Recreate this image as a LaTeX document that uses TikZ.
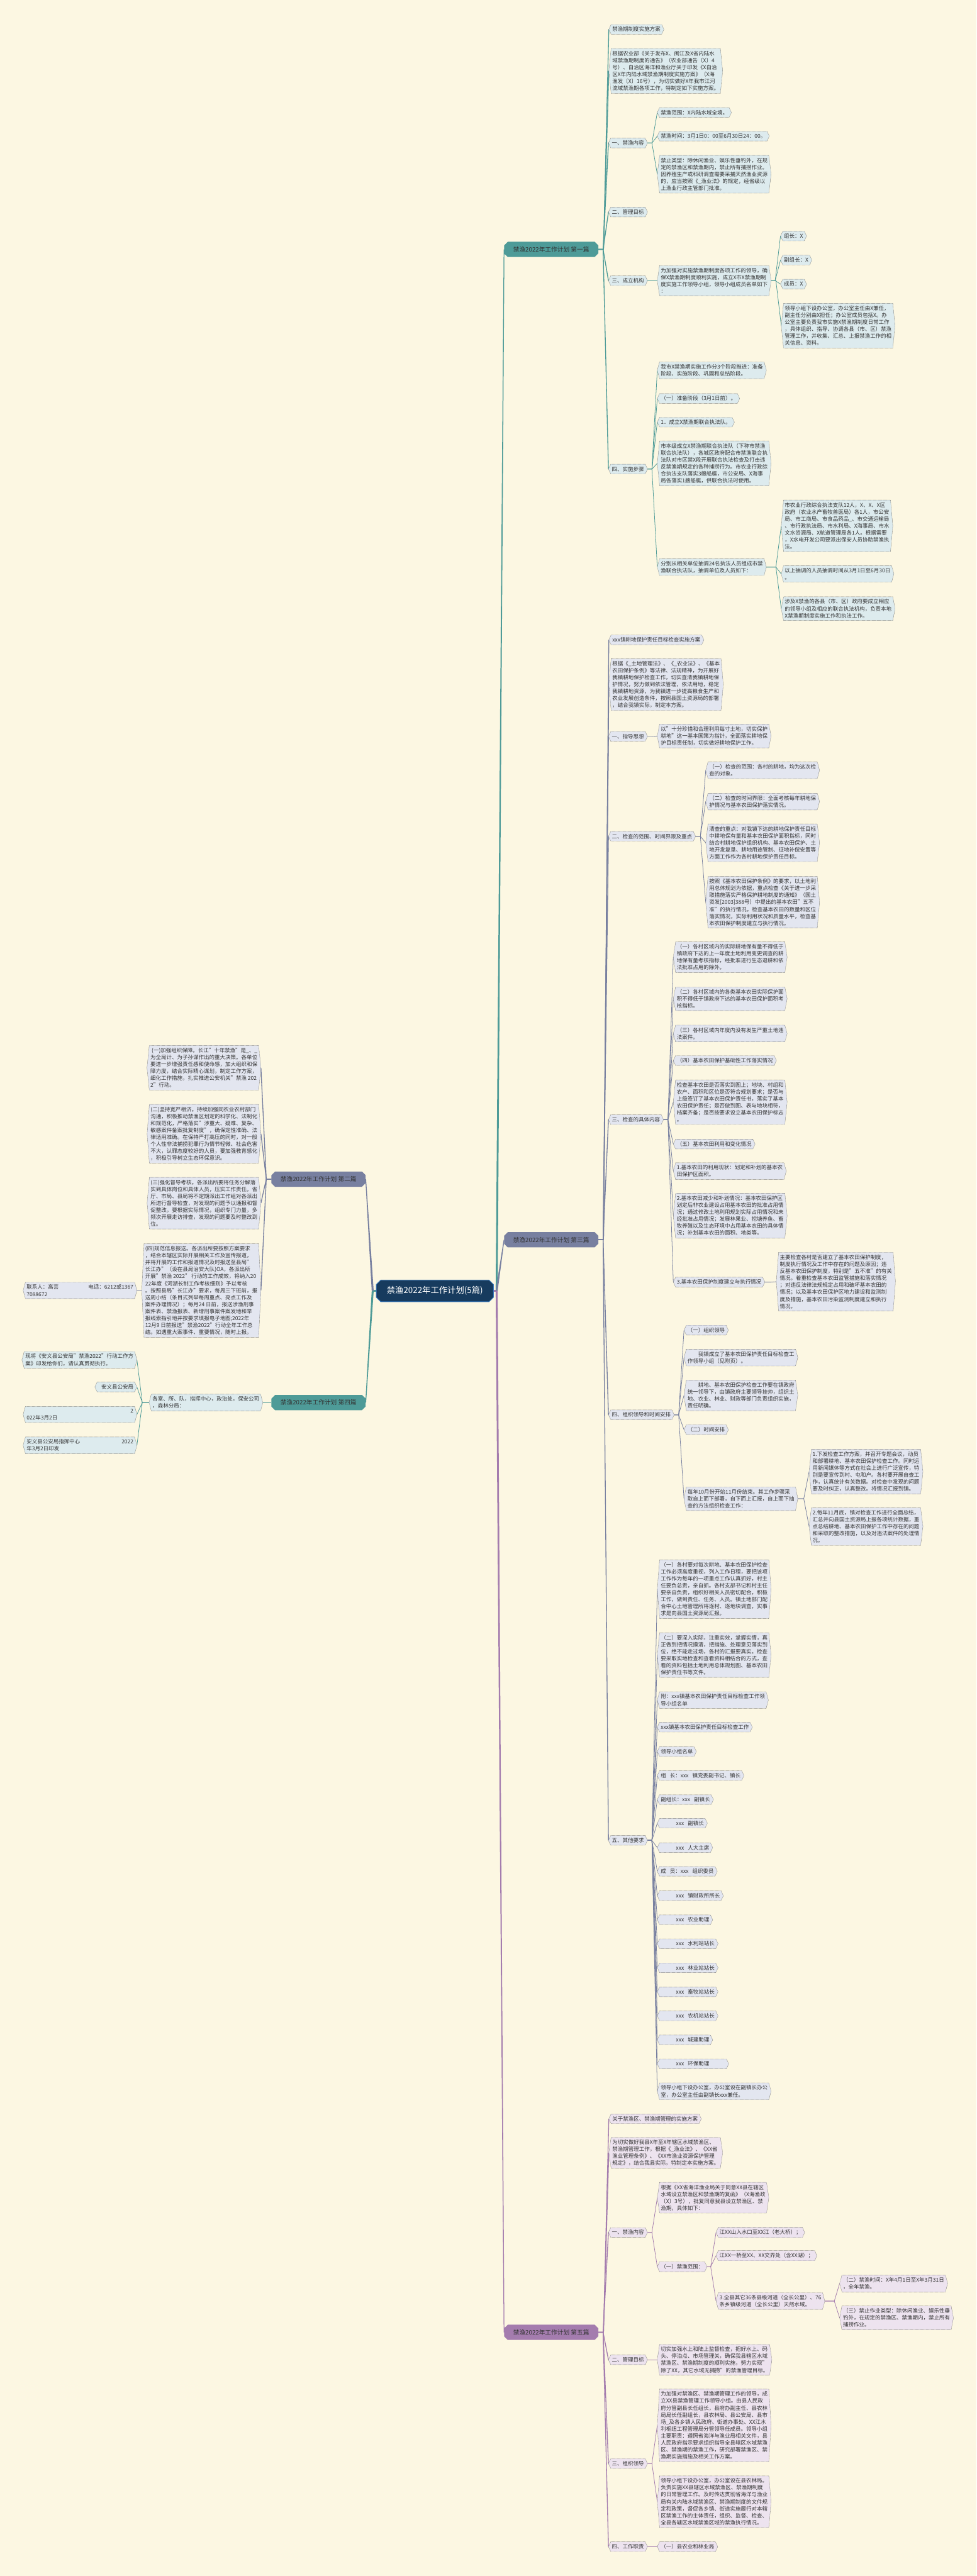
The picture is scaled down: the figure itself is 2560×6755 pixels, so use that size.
\documentclass[tikz,border=0pt]{standalone}
\usepackage{fontspec}
\setmainfont{Noto Sans CJK SC}
\XeTeXlinebreaklocale "zh"
\XeTeXlinebreakskip=0pt plus 1pt
\usetikzlibrary{calc,shapes.misc}
\definecolor{bgc}{HTML}{FCF7E2}
\definecolor{tealc}{HTML}{4E9B98}
\definecolor{slatec}{HTML}{7880A0}
\definecolor{purpc}{HTML}{A47CAE}
\definecolor{tf}{HTML}{DDEBEE}
\definecolor{gf}{HTML}{E3E6F0}
\definecolor{pf}{HTML}{EDE3EF}
\definecolor{rootf}{HTML}{173B5E}
\definecolor{rootd}{HTML}{3D7CC0}
\definecolor{txtc}{HTML}{333333}
\definecolor{bordc}{HTML}{555555}
\pgfdeclarelayer{bgl}
\pgfdeclarelayer{edges}
\pgfdeclarelayer{shapes}
\pgfsetlayers{bgl,edges,shapes,main}
\tikzset{
  leaf/.style={inner xsep=3pt, inner ysep=6pt, align=left, text=txtc, font=\fontsize{14}{18.3}\selectfont},
  leafbd/.style={draw=bordc, densely dotted, line width=0.7pt},
  lvone/.style={chamfered rectangle, chamfered rectangle xsep=6pt, minimum width=247pt, minimum height=40pt, inner sep=2pt, text=txtc, font=\fontsize{16}{18}\selectfont},
  rootst/.style={chamfered rectangle, chamfered rectangle xsep=8pt, fill=rootf, draw=rootd, line width=1.5pt, minimum width=307pt, minimum height=57pt, text=white, font=\fontsize{22}{24}\selectfont},
  thinedge/.style={line width=1.3pt},
  midedge/.style={line width=2.2pt}
}
\newcommand\hexR[6][]{%
  \node[leaf,anchor=west,#1] (#2) at ({#3+6},{#4}) {#6};
  \coordinate (#2-l) at ([xshift=-6pt]#2.west);
  \coordinate (#2-r) at ([xshift=6pt]#2.east);
  \begin{pgfonlayer}{shapes}
    \draw[leafbd,fill=#5] (#2-l) -- (#2.north west) -- (#2.north east) -- (#2-r) -- (#2.south east) -- (#2.south west) -- cycle;
  \end{pgfonlayer}}
\newcommand\hexL[6][]{%
  \node[leaf,anchor=east,#1] (#2) at ({#3-6},{#4}) {#6};
  \coordinate (#2-l) at ([xshift=-6pt]#2.west);
  \coordinate (#2-r) at ([xshift=6pt]#2.east);
  \begin{pgfonlayer}{shapes}
    \draw[leafbd,fill=#5] (#2-l) -- (#2.north west) -- (#2.north east) -- (#2-r) -- (#2.south east) -- (#2.south west) -- cycle;
  \end{pgfonlayer}}
\newcommand\linkR[3]{\begin{pgfonlayer}{edges}\draw[thinedge,#3] (#1-r) -- ($(#2-l |- #1-r)+(-14,0)$) -- (#2-l);\end{pgfonlayer}}
\newcommand\linkL[3]{\begin{pgfonlayer}{edges}\draw[thinedge,#3] (#1-l) -- ($(#2-r |- #1-l)+(14,0)$) -- (#2-r);\end{pgfonlayer}}
\newcommand\taper[3]{\begin{pgfonlayer}{edges}\fill[#3] ($(#1)+(-2.6,0)$) -- ($(#1)+(2.6,0)$) -- ($(#2)+(1,0)$) -- ($(#2)+(-1,0)$) -- cycle;\end{pgfonlayer}}
\begin{document}
\begin{tikzpicture}[x=1pt,y=-1pt]
\begin{pgfonlayer}{bgl}
\fill[bgc] (0,0) rectangle (2560,6755);
\end{pgfonlayer}
\useasboundingbox (0,0) rectangle (2560,6755);

% root and level one
\node[rootst] (root) at (1140,3385) {禁渔2022年工作计划(5篇)};
\node[lvone, fill=tealc] (p1) at (1445,654) {禁渔2022年工作计划 第一篇};
\node[lvone, fill=slatec] (p3) at (1445,3251) {禁渔2022年工作计划 第三篇};
\node[lvone, fill=purpc] (p5) at (1445,6116) {禁渔2022年工作计划 第五篇};
\node[lvone, fill=slatec] (p2) at (835,3092) {禁渔2022年工作计划 第二篇};
\node[lvone, fill=tealc] (p4) at (835,3678) {禁渔2022年工作计划 第四篇};
\foreach \p in {p1,p2,p3,p4,p5}{\coordinate (\p-r) at (\p.east); \coordinate (\p-l) at (\p.west);}
\coordinate (jr) at (1302,3385);
\coordinate (jl) at (977,3385);
\begin{pgfonlayer}{edges}
\draw[line width=4pt,purpc] (root.east) -- (jr);
\draw[line width=4pt,tealc] (root.west) -- (jl);
\end{pgfonlayer}
\taper{jr}{p1.west}{tealc}
\taper{jr}{p3.west}{slatec}
\taper{jr}{p5.west}{purpc}
\taper{jl}{p2.east}{slatec}
\taper{jl}{p4.east}{tealc}

% ===== 第一篇 =====
\hexR{a1}{1596}{77}{tf}{禁渔期制度实施方案}
\hexR{a2}{1596}{186}{tf}{根据农业部《关于发布X、闽江及X省内陆水\\域禁渔期制度的通告》（农业部通告〔X〕4\\号）、自治区海洋和渔业厅关于印发《X自治\\区X年内陆水域禁渔期制度实施方案》（X海\\渔发〔X〕16号），为切实做好X年我市江河\\流域禁渔期各项工作，特制定如下实施方案。}
\hexR{a3}{1595}{375}{tf}{一、禁渔内容}
\hexR{a31}{1723}{295}{tf}{禁渔范围：X内陆水域全境。}
\hexR{a32}{1723}{357}{tf}{禁渔时间：3月1日0：00至6月30日24：00。}
\hexR{a33}{1723}{457}{tf}{禁止类型：除休闲渔业、娱乐性垂钓外，在规\\定的禁渔区和禁渔期内，禁止所有捕捞作业。\\因养殖生产或科研调查需要采捕天然渔业资源\\的，应当按照《\_渔业法》的规定，经省级以\\上渔业行政主管部门批准。}
\hexR{a4}{1595}{556}{tf}{二、管理目标}
\hexR{a5}{1595}{736}{tf}{三、成立机构}
\hexR{a51}{1723}{736}{tf}{为加强对实施禁渔期制度各项工作的领导，确\\保X禁渔期制度顺利实施，成立X市X禁渔期制\\度实施工作领导小组，领导小组成员名单如下\\：}
\hexR{a511}{2046}{619}{tf}{组长：X}
\hexR{a512}{2046}{682}{tf}{副组长：X}
\hexR{a513}{2046}{745}{tf}{成员：X}
\hexR{a514}{2048}{854}{tf}{领导小组下设办公室，办公室主任由X兼任，\\副主任分别由X担任；办公室成员包括X。办\\公室主要负责我市实施X禁渔期制度日常工作\\，具体组织、指导、协调各县（市、区）禁渔\\管理工作，并收集、汇总、上报禁渔工作的相\\关信息、资料。}
\hexR{a6}{1595}{1230}{tf}{四、实施步骤}
\hexR{a61}{1723}{971}{tf}{我市X禁渔期实施工作分3个阶段推进：准备\\阶段、实施阶段、巩固和总结阶段。}
\hexR{a62}{1723}{1045}{tf}{（一）准备阶段（3月1日前）。}
\hexR{a63}{1723}{1107}{tf}{1．成立X禁渔期联合执法队。}
\hexR{a64}{1723}{1215}{tf}{市本级成立X禁渔期联合执法队（下称市禁渔\\联合执法队），各城区政府配合市禁渔联合执\\法队对市区禁X段开展联合执法检查及打击违\\反禁渔期规定的各种捕捞行为。市农业行政综\\合执法支队落实3艘船艇，市公安局、X海事\\局各落实1艘船艇，供联合执法时使用。}
\hexR{a65}{1723}{1487}{tf}{分别从相关单位抽调24名执法人员组成市禁\\渔联合执法队，抽调单位及人员如下：}
\hexR{a651}{2048}{1379}{tf}{市农业行政综合执法支队12人，X、X、X区\\政府（农业水产畜牧兽医局）各1人，市公安\\局、市工商局、市食品药品\_、市交通运输局\\、市行政执法局、市水利局、X海事局、市水\\文水资源局、X航道管理局各1人。根据需要\\，X水电开发公司要派出保安人员协助禁渔执\\法。}
\hexR{a652}{2048}{1505}{tf}{以上抽调的人员抽调时间从3月1日至6月30日\\。}
\hexR{a653}{2048}{1596}{tf}{涉及X禁渔的各县（市、区）政府要成立相应\\的领导小组及相应的联合执法机构，负责本地\\X禁渔期制度实施工作和执法工作。}
\foreach \c in {a1,a2,a3,a4,a5,a6}{\linkR{p1}{\c}{tealc,midedge}}
\foreach \c in {a31,a32,a33}{\linkR{a3}{\c}{tealc}}
\linkR{a5}{a51}{tealc}
\foreach \c in {a511,a512,a513,a514}{\linkR{a51}{\c}{tealc}}
\foreach \c in {a61,a62,a63,a64,a65}{\linkR{a6}{\c}{tealc}}
\foreach \c in {a651,a652,a653}{\linkR{a65}{\c}{tealc}}

% ===== 第三篇 =====
\hexR{c1}{1596}{1678}{gf}{xxx镇耕地保护责任目标检查实施方案}
\hexR{c2}{1596}{1795}{gf}{根据《\_土地管理法》、《\_农业法》、《基本\\农田保护条例》等法律、法规精神，为开展好\\我镇耕地保护检查工作，切实查清我镇耕地保\\护情况，努力做到依法管理，依法用地，稳定\\我镇耕地资源，为我镇进一步提高粮食生产和\\农业发展创造条件，按照县国土资源局的部署\\，结合我镇实际，制定本方案。}
\hexR{c3}{1595}{1931}{gf}{一、指导思想}
\hexR{c31}{1723}{1930}{gf}{以"十分珍惜和合理利用每寸土地，切实保护\\耕地"这一基本国策为指针，全面落实耕地保\\护目标责任制，切实做好耕地保护工作。}
\hexR{c4}{1595}{2193}{gf}{二、检查的范围、时间界限及重点}
\hexR{c41}{1850}{2020}{gf}{（一）检查的范围：各村的耕地，均为这次检\\查的对象。}
\hexR{c42}{1850}{2102}{gf}{（二）检查的时间界限：全面考核每年耕地保\\护情况与基本农田保护落实情况。}
\hexR{c43}{1850}{2210}{gf}{清查的重点：对我镇下达的耕地保护责任目标\\中耕地保有量和基本农田保护面积指标，同时\\结合村耕地保护组织机构、基本农田保护、土\\地开发复垦、耕地用途管制、征地补偿安置等\\方面工作作为各村耕地保护责任目标。}
\hexR{c44}{1850}{2366}{gf}{按照《基本农田保护条例》的要求，以土地利\\用总体规划为依据，重点检查《关于进一步采\\取措施落实严格保护耕地制度的通知》（国土\\资发[2003]388号）中提出的基本农田"五不\\准"的执行情况，检查基本农田的数量和区位\\落实情况，实际利用状况和质量水平，检查基\\本农田保护制度建立与执行情况。}
\hexR{c5}{1595}{2936}{gf}{三、检查的具体内容}
\hexR{c51}{1765}{2510}{gf}{（一）各村区域内的实际耕地保有量不得低于\\镇政府下达的上一年度土地利用变更调查的耕\\地保有量考核指标，经批准进行生态退耕和依\\法批准占用的除外。}
\hexR{c52}{1765}{2619}{gf}{（二）各村区域内的各类基本农田实际保护面\\积不得低于镇政府下达的基本农田保护面积考\\核指标。}
\hexR{c53}{1765}{2710}{gf}{（三）各村区域内年度内没有发生严重土地违\\法案件。}
\hexR{c54}{1765}{2781}{gf}{（四）基本农田保护基础性工作落实情况}
\hexR{c55}{1765}{2890}{gf}{检查基本农田是否落实到图上；地块、村组和\\农户、面积和区位是否符合规划要求；是否与\\上级签订了基本农田保护责任书，落实了基本\\农田保护责任；是否做到图、表与地块相符，\\档案齐备；是否按要求设立基本农田保护标志\\。}
\hexR{c56}{1765}{3000}{gf}{（五）基本农田利用和变化情况}
\hexR{c57}{1765}{3071}{gf}{1.基本农田的利用现状：划定和补划的基本农\\田保护区面积。}
\hexR{c58}{1765}{3188}{gf}{2.基本农田减少和补划情况：基本农田保护区\\划定后非农业建设占用基本农田的批准占用情\\况；通过修改土地利用规划实际占用情况和未\\经批准占用情况；发展林果业、挖塘养鱼、畜\\牧养殖以及生态环境中占用基本农田的具体情\\况；补划基本农田的面积、地类等。}
\hexR{c59}{1765}{3362}{gf}{3.基本农田保护制度建立与执行情况}
\hexR{c591}{2035}{3361}{gf}{主要检查各村是否建立了基本农田保护制度，\\制度执行情况及工作中存在的问题及原因；违\\反基本农田保护制度，特别是"五不准"的有关\\情况。着重检查基本农田监管措施和落实情况\\；对违反法律法规规定占用和破坏基本农田的\\情况；以及基本农田保护区地力建设和监测制\\度及措施，基本农田污染监测制度建立和执行\\情况。}
\hexR{c6}{1595}{3710}{gf}{四、组织领导和时间安排}
\hexR{c61}{1793}{3488}{gf}{（一）组织领导}
\hexR{c62}{1793}{3560}{gf}{\hspace*{28pt}我镇成立了基本农田保护责任目标检查工\\作领导小组（见附页）。}
\hexR{c63}{1793}{3659}{gf}{\hspace*{28pt}耕地、基本农田保护检查工作要在镇政府\\统一领导下，由镇政府主要领导挂帅，组织土\\地、农业、林业、财政等部门负责组织实施，\\责任明确。}
\hexR{c64}{1793}{3749}{gf}{（二）时间安排}
\hexR{c65}{1793}{3930}{gf}{每年10月份开始11月份结束。其工作步骤采\\取自上而下部署，自下而上汇报，自上而下抽\\查的方法组织检查工作：}
\hexR{c651}{2121}{3859}{gf}{1.下发检查工作方案，并召开专题会议，动员\\和部署耕地、基本农田保护检查工作。同时运\\用新闻媒体等方式在社会上进行广泛宣传，特\\别是要宣传到村、屯和户。各村要开展自查工\\作，认真统计有关数据。对检查中发现的问题\\要及时纠正，认真整改。将情况汇报到镇。}
\hexR{c652}{2121}{4003}{gf}{2.每年11月底，镇对检查工作进行全面总结，\\汇总并向县国土资源局上报各项统计数据，重\\点总结耕地、基本农田保护工作中存在的问题\\和采取的整改措施，以及对违法案件的处理情\\况。}
\hexR{c7}{1595}{4826}{gf}{五、其他要求}
\hexR{c71}{1723}{4167}{gf}{（一）各村要对每次耕地、基本农田保护检查\\工作必须高度重视，列入工作日程，要把该项\\工作作为每年的一项重点工作认真抓好，村主\\任要负总责，亲自抓。各村支部书记和村主任\\要亲自负责，组织好相关人员密切配合，积极\\工作，做到责任、任务、人员。镇土地部门配\\合中心土地管理所将逐村、逐地块调查，实事\\求是向县国土资源局汇报。}
\hexR{c72}{1723}{4340}{gf}{（二）要深入实际，注重实效，掌握实情，真\\正做到把情况摸清，把措施、处理意见落实到\\位，绝不能走过场，各村的汇报要真实。检查\\要采取实地检查和查看资料相结合的方式，查\\看的资料包括土地利用总体规划图、基本农田\\保护责任书等文件。}
\hexR{c73}{1723}{4458}{gf}{附：xxx镇基本农田保护责任目标检查工作领\\导小组名单}
\hexR{c74}{1723}{4529}{gf}{xxx镇基本农田保护责任目标检查工作}
\hexR{c75}{1723}{4593}{gf}{领导小组名单}
\hexR{c76}{1723}{4656}{gf}{组\hspace{10pt}长：xxx\hspace{10pt}镇党委副书记、镇长}
\hexR{c77}{1723}{4719}{gf}{副组长：xxx\hspace{10pt}副镇长}
\hexR{c78}{1723}{4781}{gf}{\hspace*{40pt}xxx\hspace{10pt}副镇长}
\hexR{c79}{1723}{4845}{gf}{\hspace*{40pt}xxx\hspace{10pt}人大主席}
\hexR{c7a}{1723}{4907}{gf}{成\hspace{10pt}员：xxx\hspace{10pt}组织委员}
\hexR{c7b}{1723}{4971}{gf}{\hspace*{40pt}xxx\hspace{10pt}镇财政所所长}
\hexR{c7c}{1723}{5034}{gf}{\hspace*{40pt}xxx\hspace{10pt}农业助理}
\hexR{c7d}{1723}{5097}{gf}{\hspace*{40pt}xxx\hspace{10pt}水利站站长}
\hexR{c7e}{1723}{5160}{gf}{\hspace*{40pt}xxx\hspace{10pt}林业站站长}
\hexR{c7f}{1723}{5223}{gf}{\hspace*{40pt}xxx\hspace{10pt}畜牧站站长}
\hexR{c7g}{1723}{5286}{gf}{\hspace*{40pt}xxx\hspace{10pt}农机站站长}
\hexR{c7h}{1723}{5349}{gf}{\hspace*{40pt}xxx\hspace{10pt}城建助理}
\hexR{c7i}{1723}{5412}{gf}{\hspace*{40pt}xxx\hspace{10pt}环保助理\hspace*{42pt}}
\hexR{c7j}{1723}{5484}{gf}{领导小组下设办公室，办公室设在副镇长办公\\室，办公室主任由副镇长xxx兼任。}
\foreach \c in {c1,c2,c3,c4,c5,c6,c7}{\linkR{p3}{\c}{slatec,midedge}}
\linkR{c3}{c31}{slatec}
\foreach \c in {c41,c42,c43,c44}{\linkR{c4}{\c}{slatec}}
\foreach \c in {c51,c52,c53,c54,c55,c56,c57,c58,c59}{\linkR{c5}{\c}{slatec}}
\linkR{c59}{c591}{slatec}
\foreach \c in {c61,c62,c63,c64,c65}{\linkR{c6}{\c}{slatec}}
\foreach \c in {c651,c652}{\linkR{c65}{\c}{slatec}}
\foreach \c in {c71,c72,c73,c74,c75,c76,c77,c78,c79,c7a,c7b,c7c,c7d,c7e,c7f,c7g,c7h,c7i,c7j}{\linkR{c7}{\c}{slatec}}

% ===== 第五篇 =====
\hexR{e1}{1596}{5556}{pf}{关于禁渔区、禁渔期管理的实施方案}
\hexR{e2}{1596}{5645}{pf}{为切实做好我县X年至X年辖区水域禁渔区、\\禁渔期管理工作，根据《\_渔业法》、《XX省\\渔业管理条例》、《XX市渔业资源保护管理\\规定》，结合我县实际，特制定本实施方案。}
\hexR{e3}{1595}{5854}{pf}{一、禁渔内容}
\hexR{e31}{1723}{5763}{pf}{根据《XX省海洋渔业局关于同意XX县在辖区\\水域设立禁渔区和禁渔期的复函》（X海渔政\\〔X〕3号），批复同意我县设立禁渔区、禁\\渔期，具体如下：}
\hexR{e32}{1723}{5944}{pf}{（一）禁渔范围：}
\hexR{e321}{1877}{5854}{pf}{江XX山入水口至XX江（老大桥）；}
\hexR{e322}{1877}{5915}{pf}{江XX一桥至XX、XX交界处（含XX湖）；}
\hexR{e323}{1877}{6034}{pf}{3.全县其它36条县级河道（全长公里）、76\\条乡镇级河道（全长公里）天然水域。}
\hexR{e3231}{2201}{5988}{pf}{（二）禁渔时间：X年4月1日至X年3月31日\\，全年禁渔。}
\hexR{e3232}{2201}{6078}{pf}{（三）禁止作业类型：除休闲渔业、娱乐性垂\\钓外，在规定的禁渔区、禁渔期内，禁止所有\\捕捞作业。}
\hexR{e4}{1595}{6188}{pf}{二、管理目标}
\hexR{e41}{1723}{6188}{pf}{切实加强水上和陆上监督检查，把好水上、码\\头、停泊点、市场管理关，确保我县辖区水域\\禁渔区、禁渔期制度的顺利实施，努力实现"\\除了XX，其它水域无捕捞"的禁渔管理目标。}
\hexR{e5}{1595}{6460}{pf}{三、组织领导}
\hexR{e51}{1723}{6360}{pf}{为加强对禁渔区、禁渔期管理工作的领导，成\\立XX县禁渔管理工作领导小组。由县人民政\\府分管副县长任组长，县府办副主任、县农林\\局局长任副组长，县农林局、县公安局、县市\\场\_及各乡镇人民政府、街道办事处、XX江水\\利枢纽工程管理局分管领导任成员。领导小组\\主要职责：遵照省海洋与渔业局相关文件，县\\人民政府指示要求组织指导全县辖区水域禁渔\\区、禁渔期的禁渔工作，研究部署禁渔区、禁\\渔期实施措施及相关工作方案。}
\hexR{e52}{1723}{6560}{pf}{领导小组下设办公室，办公室设在县农林局。\\负责实施XX县辖区水域禁渔区、禁渔期制度\\的日常管理工作。及时传达贯彻省海洋与渔业\\局有关内陆水域禁渔区、禁渔期制度的文件规\\定和政策，督促各乡镇、街道实施履行对本辖\\区禁渔工作的主体责任，组织、监督、检查、\\全县各辖区水域禁渔区域的禁渔执行情况。}
\hexR{e6}{1595}{6678}{pf}{四、工作职责}
\hexR{e61}{1723}{6678}{pf}{（一）县农业和林业局}
\foreach \c in {e1,e2,e3,e4,e5,e6}{\linkR{p5}{\c}{purpc,midedge}}
\foreach \c in {e31,e32}{\linkR{e3}{\c}{purpc}}
\foreach \c in {e321,e322,e323}{\linkR{e32}{\c}{purpc}}
\foreach \c in {e3231,e3232}{\linkR{e323}{\c}{purpc}}
\linkR{e4}{e41}{purpc}
\foreach \c in {e51,e52}{\linkR{e5}{\c}{purpc}}
\linkR{e6}{e61}{purpc}

% ===== 第二篇 (left) =====
\hexL{b1}{684}{2800}{gf}{\ (一)加强组织保障。长江"十年禁渔"是\_、\_\\为全局计、为子孙谋作出的重大决策。各单位\\要进一步增强责任感和使命感，加大组织和保\\障力度，结合实际精心谋划，制定工作方案，\\细化工作措施，扎实推进公安机关"禁渔 202\\2"行动。}
\hexL{b2}{684}{2973}{gf}{(二)坚持宽严相济。持续加强同农业农村部门\\沟通，积极推动禁渔区划定的科学化、法制化\\和规范化，严格落实"涉重大、疑难、复杂、\\敏感案件备案批复制度"，确保定性准确、法\\律适用准确。在保持严打高压的同时，对一般\\个人性非法捕捞犯罪行为情节轻微、社会危害\\不大，认罪态度较好的人员，要加强教育感化\\，积极引导树立生态环保意识。}
\hexL{b3}{684}{3155}{gf}{(三)强化督导考核。各派出所要将任务分解落\\实到具体岗位和具体人员，压实工作责任。省\\厅、市局、县局将不定期派出工作组对各派出\\所进行督导检查，对发现的问题予以通报和督\\促整改。要根据实际情况，组织专门力量，多\\频次开展走访排查，发现的问题要及时整改到\\位。}
\hexL{b4}{684}{3384}{gf}{(四)规范信息报送。各派出所要按照方案要求\\，结合本辖区实际开展相关工作及宣传报道，\\并将开展的工作和报道情况及时报送至县局"\\长江办"（设在县局治安大队)OA，各派出所\\开展"禁渔 2022" 行动的工作成效，将纳入20\\22年度《河湖长制工作考核细则》予以考核\\。按照县局"长江办"要求，每周三下班前，报\\送周小结（条目式列举每周重点、亮点工作及\\案件办理情况）；每月24 日前，报送涉渔刑事\\案件表、禁渔报表、新增刑事案件案发地和举\\报线索指引地并按要求填报电子地图;2022年\\12月9 日前报送"禁渔2022"行动全年工作总\\结。如遇重大案事件、重要情况，随时上报。}
\hexL[text width=280pt]{b41}{359}{3384}{gf}{联系人：高芸\hfill 电话：6212或1367\\7088672}
\foreach \c in {b1,b2,b3,b4}{\linkL{p2}{\c}{slatec,midedge}}
\linkL{b4}{b41}{slatec}

% ===== 第四篇 (left) =====
\hexL{d1}{689}{3678}{tf}{各室、所、队，指挥中心，政治处，保安公司\\，森林分局：}
\hexL{d11}{359}{3566}{tf}{现将《安义县公安局"禁渔2022"行动工作方\\案》印发给你们，请认真贯彻执行。}
\hexL{d12}{359}{3637}{tf}{\hspace*{8pt}安义县公安局}
\hexL[text width=280pt]{d13}{359}{3709}{tf}{\hfill 2\\022年3月2日}
\hexL[text width=280pt]{d14}{359}{3790}{tf}{安义县公安局指挥中心\hfill 2022\\年3月2日印发}
\linkL{p4}{d1}{tealc,midedge}
\foreach \c in {d11,d12,d13,d14}{\linkL{d1}{\c}{tealc}}
\end{tikzpicture}
\end{document}
